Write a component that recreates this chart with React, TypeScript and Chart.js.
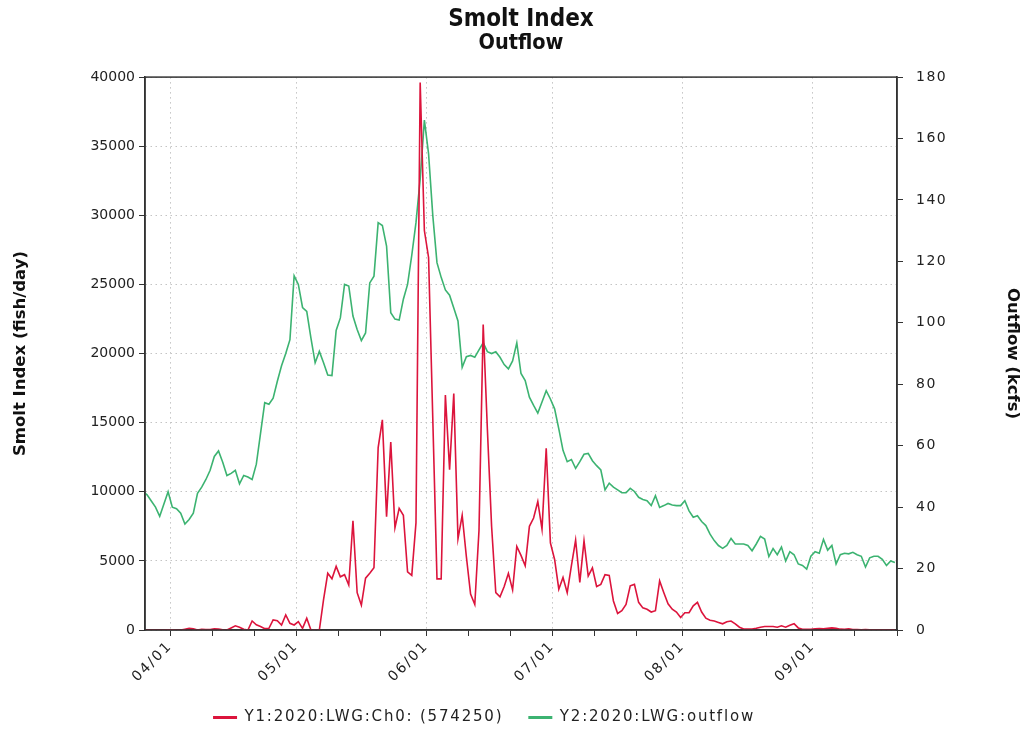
import React, { useEffect, useRef } from 'react';
import { Chart, registerables } from 'chart.js';

Chart.register(...registerables);

// ---- data -------------------------------------------------------------
const START_DATE = '2020-03-25'; // date of the first daily value
const AXIS_START = '2020-03-26';
const AXIS_END = '2020-09-21';
const TICK_MONTHS = [4, 5, 6, 7, 8, 9];
const TICK_DAYS = [1, 11, 21];
const LABEL_DAY = 1;

const SERIES_1_LABEL = 'Y1:2020:LWG:Ch0: (574250)';
const SERIES_2_LABEL = 'Y2:2020:LWG:outflow';

// daily smolt index (fish/day), from 2020-03-25
const smoltIndex = [
  0, 0, 0, 0, 0, 0, 20, 10, 0, 0,
  60, 120, 80, 0, 50, 40, 40, 80, 60, 10,
  0, 150, 300, 200, 50, 0, 650, 380, 250, 100,
  120, 725, 676, 362, 1087, 483, 362, 604, 120, 845,
  0, 0, 0, 2200, 4100, 3700, 4600, 3850, 4000, 3250,
  7900, 2700, 1800, 3750, 4100, 4500, 13200, 15200, 8200, 13600,
  7400, 8800, 8300, 4200, 3950, 7750, 39600, 28900, 26950, 15300,
  3700, 3700, 17000, 11600, 17100, 6600, 8300, 5300, 2600, 1850,
  7200, 22100, 14500, 7500, 2700, 2400, 3150, 4100, 2900, 6050,
  5400, 4650, 7500, 8100, 9300, 7300, 13150, 6300, 5100, 2950,
  3800, 2700, 4650, 6500, 3450, 6450, 3900, 4500, 3150, 3300,
  4000, 3950, 2100, 1200, 1400, 1850, 3200, 3300, 2000, 1600,
  1500, 1300, 1400, 3550, 2700, 1900, 1500, 1300, 900, 1250,
  1250, 1750, 2000, 1300, 850, 700, 650, 550, 450, 600,
  650, 450, 200, 70, 70, 70, 120, 200, 250, 250,
  250, 200, 300, 200, 350, 450, 150, 50, 50, 50,
  90, 100, 80, 120, 150, 120, 60, 50, 80, 40,
  30, 20, 40, 20, 10, 10, 20, 10, 10, 10,
];

// daily outflow (kcfs), from 2020-03-25
const outflow = [
  45, 44, 42, 40, 37, 41, 45, 40, 39.5, 38,
  34.5, 36, 38, 44.5, 46.5, 49, 52, 56.5, 58.3, 54.6,
  50.3, 51, 52, 47.6, 50.3, 49.8, 49, 54, 64, 74,
  73.5, 75.5, 81, 86, 90, 94.5, 115.3, 112.5, 105, 103.7,
  95, 87, 90.7, 87, 83, 82.8, 97.5, 101.6, 112.5, 112,
  102.2, 97.8, 94.2, 96.7, 113, 115.2, 132.6, 131.7, 125, 103.3,
  101.2, 100.9, 107.7, 112.5, 122, 132.6, 146.8, 166, 155, 135,
  119.6, 114.8, 110.7, 109, 104.8, 100.6, 85.5, 89, 89.4, 88.8,
  91.2, 93.5, 90.6, 90, 90.6, 88.8, 86.4, 85, 87.6, 93.5,
  83.5, 81.2, 75.8, 73.1, 70.6, 74.2, 77.9, 75.2, 72, 65.5,
  58.5, 54.8, 55.5, 52.6, 54.8, 57.2, 57.5, 55.1, 53.5, 52.1,
  45.6, 47.8, 46.5, 45.6, 44.7, 44.7, 46.1, 45.1, 43.2, 42.5,
  42.1, 40.5, 43.7, 39.9, 40.5, 41.2, 40.7, 40.5, 40.5, 42.1,
  38.8, 36.7, 37.2, 35.3, 34.0, 31.2, 29.1, 27.5, 26.6, 27.5,
  29.8, 28.0, 28.0, 28.0, 27.5, 25.8, 28.0, 30.5, 29.6, 23.9,
  26.5, 24.5, 27.0, 22.5, 25.5, 24.5, 21.5, 21.0, 19.8, 24.0,
  25.5, 25.0, 29.5, 26.0, 27.5, 21.5, 24.5, 25.0, 24.8, 25.3,
  24.5, 24.0, 20.5, 23.5, 24.0, 24.0, 23.0, 21.0, 22.5, 22.0,
];

// ---- helpers ----------------------------------------------------------
const DAY_MS = 86400000;
const ORIGIN = Date.UTC(2020, 3, 1);
const dayNum = (iso: string) => {
  const [y, m, d] = iso.split('-').map(Number);
  return (Date.UTC(y, m - 1, d) - ORIGIN) / DAY_MS;
};
const pad2 = (n: number) => String(n).padStart(2, '0');

const FONT = "'DejaVu Sans', 'Noto Sans', sans-serif";
const TITLE_FONT = "'DejaVu Sans Condensed', 'DejaVu Sans', sans-serif";
const RED = '#dc143c';
const GREEN = '#3cb371';
const AXIS = '#333333';

export default function App() {
  const ref = useRef<HTMLCanvasElement | null>(null);

  useEffect(() => {
    if (!ref.current) return;
    const start = dayNum(START_DATE);
    const toPts = (arr: number[]) => arr.map((v, i) => ({ x: start + i + 0.5, y: v }));

    const tickInfo: { value: number; label: string }[] = [];
    TICK_MONTHS.forEach((m) => {
      TICK_DAYS.forEach((d) => {
        const iso = `2020-${pad2(m)}-${pad2(d)}`;
        tickInfo.push({ value: dayNum(iso), label: d === LABEL_DAY ? `${pad2(m)}/${pad2(d)}` : '' });
      });
    });
    const xMin = dayNum(AXIS_START);
    const xMax = dayNum(AXIS_END);
    const visibleTicks = tickInfo.filter((t) => t.value >= xMin && t.value <= xMax);
    const labelOf = (v: number) => {
      const t = visibleTicks.find((tt) => tt.value === v);
      return t ? t.label : '';
    };

    const framePlugin = {
      id: 'frame',
      afterDatasetsDraw(chart: any) {
        const { ctx, chartArea: a } = chart;
        ctx.save();
        ctx.strokeStyle = AXIS;
        ctx.lineWidth = 1.5;
        ctx.strokeRect(a.left, a.top, a.right - a.left, a.bottom - a.top);
        ctx.restore();
      },
    };

    // letter spacing for some text groups (the reference renders them spaced)
    const spacingPlugin = {
      id: 'spacing',
      beforeLayout(chart: any) {
        const patch = (obj: any, method: string, spacing: string, dx = 0) => {
          if (!obj || obj['__p_' + method]) return;
          const orig = obj[method].bind(obj);
          obj[method] = (...args: any[]) => {
            const ctx = chart.ctx;
            ctx.save();
            ctx.letterSpacing = spacing;
            if (dx) ctx.translate(dx, 0);
            const r = orig(...args);
            ctx.restore();
            return r;
          };
          obj['__p_' + method] = true;
        };
        patch(chart.legend, 'fit', '1.8px');
        patch(chart.legend, 'draw', '1.8px', -37);
        patch(chart.scales.x, 'drawLabels', '2px');
        patch(chart.scales.y2, 'drawLabels', '1.5px');
      },
    };

    const defaultGen = (Chart.defaults as any).plugins.legend.labels.generateLabels;

    const chart = new Chart(ref.current, {
      type: 'line',
      data: {
        datasets: [
          {
            label: SERIES_1_LABEL,
            data: toPts(smoltIndex),
            borderColor: RED,
            backgroundColor: RED,
            borderWidth: 1.6,
            pointRadius: 0,
            yAxisID: 'y',
            order: 1,
          },
          {
            label: SERIES_2_LABEL,
            data: toPts(outflow),
            borderColor: GREEN,
            backgroundColor: GREEN,
            borderWidth: 1.6,
            pointRadius: 0,
            yAxisID: 'y2',
            order: 2,
          },
        ],
      },
      plugins: [framePlugin, spacingPlugin],
      options: {
        animation: false,
        responsive: true,
        maintainAspectRatio: false,
        parsing: false,
        layout: { padding: { top: 0, left: 16, right: 0, bottom: -5 } },
        elements: { line: { tension: 0 }, point: { radius: 0 } },
        plugins: {
          title: {
            display: true,
            text: 'Smolt Index',
            color: '#111',
            font: { family: TITLE_FONT, size: 24, weight: 'bold' },
            padding: { top: 5, bottom: 0 },
          },
          subtitle: {
            display: true,
            text: 'Outflow',
            color: '#111',
            font: { family: TITLE_FONT, size: 21.5, weight: 'bold' },
            padding: { top: -3, bottom: 20.5 },
          },
          legend: {
            position: 'bottom',
            labels: {
              boxWidth: 24,
              boxHeight: 3,
              padding: 25,
              color: '#222',
              font: { family: FONT, size: 15 },
              generateLabels: (c: any) =>
                defaultGen(c).map((l: any) => ({ ...l, fillStyle: l.strokeStyle, lineWidth: 0 })),
            },
          },
          tooltip: { enabled: false },
        },
        scales: {
          x: {
            type: 'linear',
            min: xMin,
            max: xMax,
            afterBuildTicks: (s: any) => {
              s.ticks = visibleTicks.map((t) => ({ value: t.value }));
            },
            afterFit: (s: any) => {
              s.height = 55;
            },
            ticks: {
              autoSkip: false,
              minRotation: 45,
              maxRotation: 45,
              padding: 2,
              color: '#222',
              font: { family: FONT, size: 14 },
              callback: (v: any) => labelOf(Number(v)),
            },
            grid: {
              color: (c: any) => (c.tick && labelOf(c.tick.value) ? '#c4c4c4' : 'rgba(0,0,0,0)'),
              tickColor: AXIS,
              tickLength: 6,
              lineWidth: 1,
            },
            border: { display: true, color: AXIS, width: 1.5, dash: [1.5, 3.5] },
          },
          y: {
            type: 'linear',
            position: 'left',
            min: 0,
            max: 40000,
            afterFit: (s: any) => {
              s.width = 129;
            },
            ticks: {
              stepSize: 5000,
              padding: 4,
              color: '#222',
              font: { family: FONT, size: 14 },
              callback: (v: any) => String(v),
            },
            title: {
              display: true,
              text: 'Smolt Index (fish/day)',
              color: '#111',
              font: { family: FONT, size: 16.5, weight: 'bold' },
              padding: { top: -5, bottom: 0 },
            },
            grid: { color: '#c4c4c4', tickColor: AXIS, tickLength: 6, lineWidth: 1 },
            border: { display: true, color: AXIS, width: 1.5, dash: [1.5, 3.5] },
          },
          y2: {
            type: 'linear',
            position: 'right',
            min: 0,
            max: 180,
            afterFit: (s: any) => {
              s.width = 129;
            },
            ticks: {
              stepSize: 20,
              padding: 13,
              color: '#222',
              font: { family: FONT, size: 14 },
              callback: (v: any) => String(v),
            },
            title: {
              display: true,
              text: 'Outflow (kcfs)',
              color: '#111',
              font: { family: FONT, size: 16.5, weight: 'bold' },
              padding: { top: 4, bottom: 0 },
            },
            grid: { drawOnChartArea: false, tickColor: AXIS, tickLength: 6 },
            border: { display: true, color: AXIS, width: 1.5 },
          },
        },
      } as any,
    });

    return () => chart.destroy();
  }, []);

  return (
    <div style={{ position: 'absolute', left: 0, top: 0, width: 1026, height: 730, background: '#fff' }}>
      <canvas ref={ref} />
    </div>
  );
}
